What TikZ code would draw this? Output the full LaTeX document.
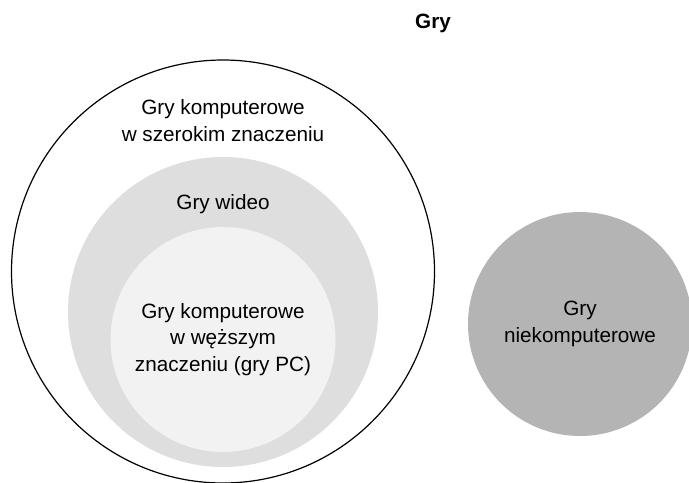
\documentclass[tikz,border=0pt]{standalone}
\usepackage{fontspec}
\setmainfont{Liberation Sans}
\usepackage{tikz}
\usetikzlibrary{positioning}
\definecolor{szaryJasny}{HTML}{F2F2F2}
\definecolor{szarySredni}{HTML}{DEDEDE}
\definecolor{szaryCiemny}{HTML}{B4B4B4}
\tikzstyle{zbior}=[circle, inner sep=0pt, draw=none]
\tikzstyle{opis}=[align=center, inner sep=0pt, text=black,
        font=\fontsize{10.35}{13.4}\selectfont]

\begin{document}
\begin{tikzpicture}[x=0.5pt, y=-0.5pt]
\useasboundingbox (0,0) rectangle (689,482);

	% zbiory
	\node (szerokie) [zbior, draw=black, line width=0.6pt, minimum size=211.5pt] at (223,271.5) {};
	\node (wideo) [zbior, fill=szarySredni, minimum size=155pt] at (223,312) {};
	\node (pc) [zbior, fill=szaryJasny, minimum size=112.5pt] at (223,339.5) {};
	\node (niekomp) [zbior, fill=szaryCiemny, minimum size=112pt] at (580,324) {};

	% opisy
	\node (gry) [opis, font=\fontsize{10.35}{13.4}\selectfont\bfseries] at (433,23) {Gry};
	\node (szerokieOpis) [opis, below=20pt of szerokie.north]
        {Gry komputerowe\\w szerokim znaczeniu};
	\node (wideoOpis) [opis, below=18.75pt of wideo.north] {Gry wideo};
	\node (pcOpis) [opis] at (pc.center)
        {Gry komputerowe\\w węższym\\znaczeniu (gry PC)};
	\node (niekompOpis) [opis] at (niekomp.center) {Gry\\niekomputerowe};

\end{tikzpicture}
\end{document}
